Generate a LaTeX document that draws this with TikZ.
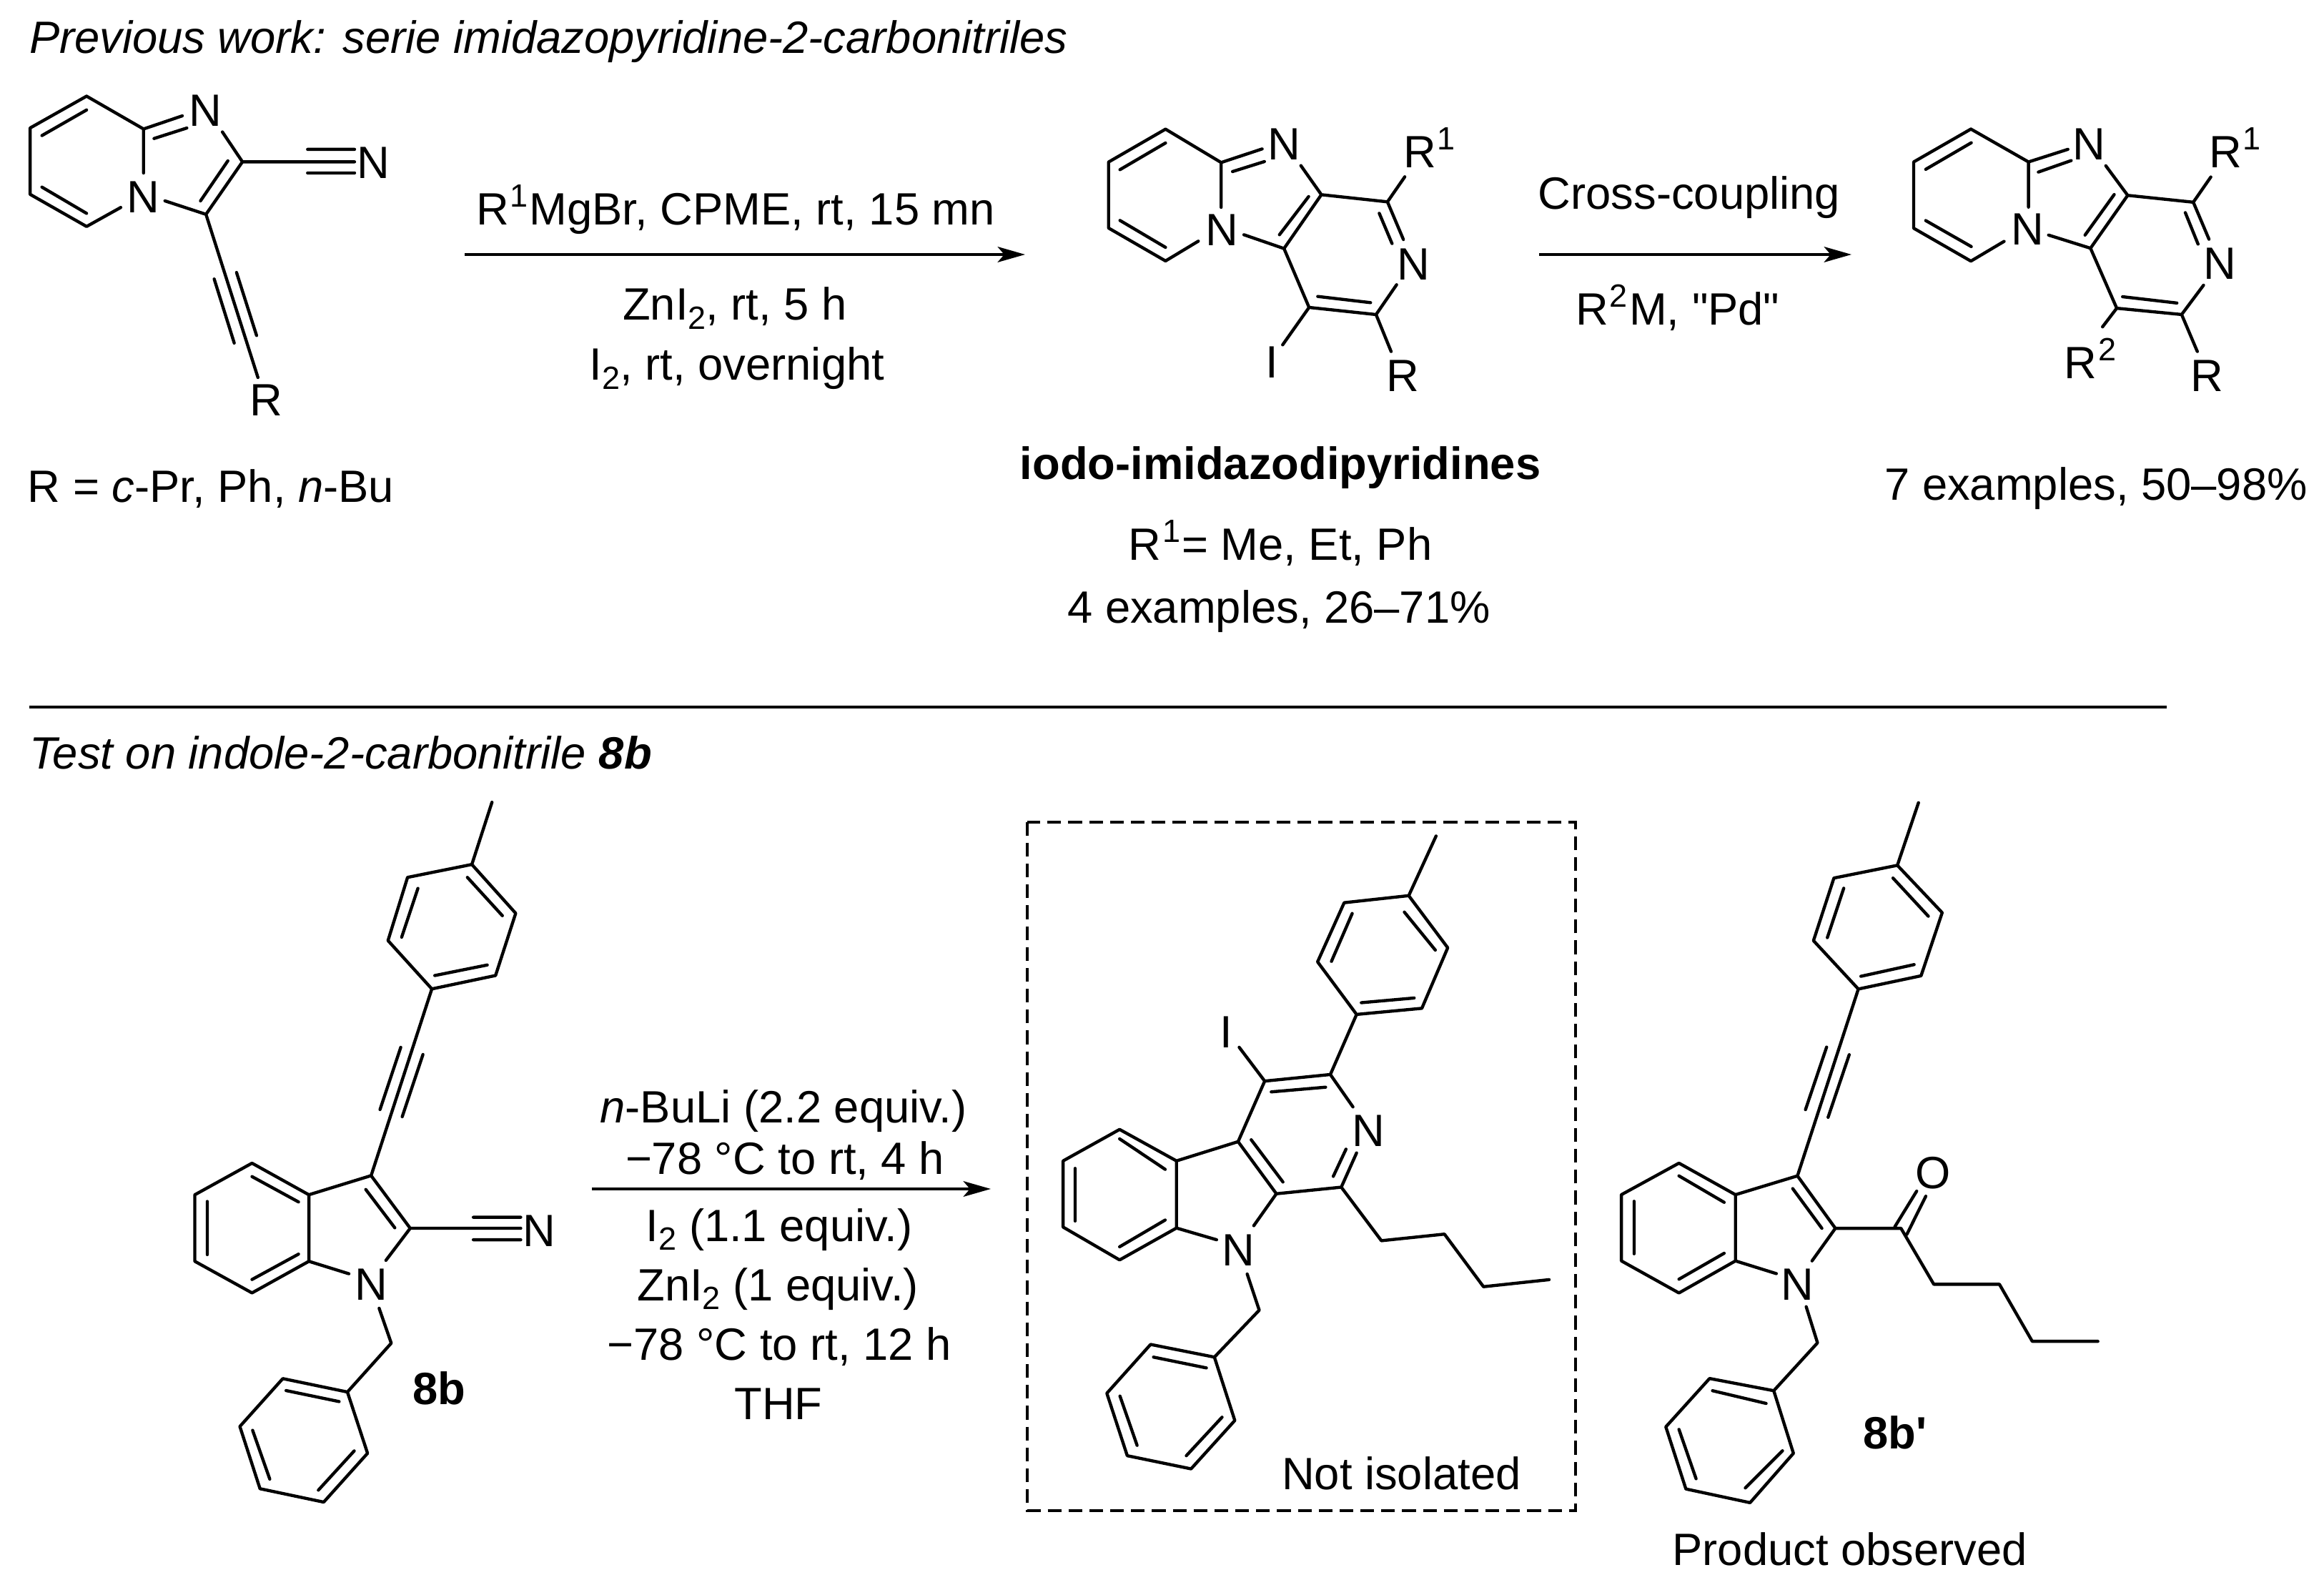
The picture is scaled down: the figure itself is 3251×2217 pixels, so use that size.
\documentclass[tikz,border=0pt]{standalone}
\usepackage{fontspec}
\setmainfont{Liberation Sans}[Ligatures=TeXOff]
\usetikzlibrary{arrows.meta}
\newcommand{\supd}[1]{\kern0.4pt\raisebox{6pt}{\fontsize{10.8}{11}\selectfont #1}\kern0.5pt}
\newcommand{\subd}[1]{\raisebox{-3pt}{\fontsize{10.8}{11}\selectfont #1}}
\tikzset{
  bond/.style={line width=1.05pt,line cap=round,line join=round,black},
  txt/.style={inner sep=0pt,outer sep=0pt,font=\fontsize{15.2}{18}\selectfont},
  atom/.style={txt,anchor=center},
  lft/.style={txt,anchor=base west},
  ctr/.style={txt,anchor=base},
  boldface/.style={font=\fontsize{15.2}{18}\selectfont\bfseries},
  rxn/.style={line width=1.05pt,-{Stealth[length=9.2pt,width=5.2pt,inset=2.2pt]}},
  rule/.style={line width=0.95pt},
  dashbox/.style={line width=0.95pt,dash pattern=on 4.6pt off 2.4pt},
  crop/.style n args={4}{shift={(#1,#2)},x=0.24pt/#3,y=-0.24pt/#4}
}
\begin{document}
\begin{tikzpicture}[x=0.24pt,y=-0.24pt]
\useasboundingbox (0,0) rectangle (3251,2217);

% headers and rule
\node[lft] (head1) at (41,75) {\itshape Previous work: serie imidazopyridine-2-carbonitriles};
\node[lft] (head2) at (41,1076) {\itshape Test on indole-2-carbonitrile \textbf{8b}};
\coordinate (ruleL) at (41,989);
\coordinate (ruleR) at (3031,989);
\draw[rule] (ruleL) -- (ruleR);

% ---------- starting nitrile
\begin{scope}[crop={0}{0}{1.568}{2.178}]
\draw[bond] (190,293)--(66,390)--(66,592)--(190,690)--(265,632)
  (190,293)--(315,393)--(315,527)
  (315,393)--(400,353) (338,422)--(410,390)
  (92,413)--(190,335) (92,570)--(190,650)
  (488,402)--(532,493)--(452,653)--(362,612)
  (500,490)--(440,612)
  (532,493)--(778,493) (675,455)--(778,455) (675,527)--(778,527)
  (452,653)--(566,1150) (470,850)--(514,1045) (519,830)--(563,1022);
\node[atom] (sN1) at (450,337) {N};
\node[atom] (sN2) at (315,600) {N};
\node[atom] (sN3) at (820,497) {N};
\node[atom] (sR) at (584,1218) {R};
\end{scope}
\node[lft] (rdef) at (39,703) {R = \textit{c}-Pr, Ph, \textit{n}-Bu};

% ---------- arrow 1
\coordinate (a1s) at (650,356);
\coordinate (a1e) at (1434,356);
\draw[rxn] (a1s) -- (a1e);
\node[ctr] (a1t1) at (1029,315) {R\supd{1}MgBr, CPME, rt, 15 mn};
\node[ctr] (a1t2) at (1028,448) {ZnI\subd{2}, rt, 5 h};
\node[ctr] (a1t3) at (1031,532) {I\subd{2}, rt, overnight};

% ---------- iodo product
\begin{scope}[crop={1450}{120}{1.568}{3.0}]
\draw[bond] (283,182)--(158,320)--(158,597)--(283,735)--(355,652)
  (283,182)--(405,322)--(405,510)
  (405,322)--(495,265) (430,360)--(500,318)
  (183,352)--(283,240) (183,565)--(283,678)
  (580,335)--(625,457)--(543,683)--(455,625)
  (597,465)--(533,625)
  (543,683)--(598,930)--(745,960)--(790,835)
  (617,884)--(733,910)
  (625,457)--(770,487)--(808,382)
  (770,487)--(805,645) (752,535)--(780,662)
  (598,930)--(540,1087)
  (745,960)--(778,1115);
\node[atom] (iN1) at (543,245) {N};
\node[atom] (iN2) at (407,605) {N};
\node[atom] (iN3) at (827,748) {N};
\node[atom] (iI) at (516,1160) {I};
\node[atom] (iR) at (803,1218) {R};
\node[lft] (iR1) at (805,345) {R\supd{1}};
\end{scope}
\node[ctr,boldface] (iodo) at (1791,671) {iodo-imidazodipyridines};
\node[ctr] (iodo2) at (1791,784) {R\supd{1}= Me, Et, Ph};
\node[ctr] (iodo3) at (1789,872) {4 examples, 26–71\%};

% ---------- arrow 2
\coordinate (a2s) at (2153,356);
\coordinate (a2e) at (2590,356);
\draw[rxn] (a2s) -- (a2e);
\node[ctr] (a2t1) at (2363,293) {Cross-coupling};
\node[ctr] (a2t2) at (2347,455) {R\supd{2}M, "Pd"};

% ---------- coupled product
\begin{scope}[crop={2450}{120}{1.96}{2.61}]
\draw[bond] (602,158)--(445,278)--(445,520)--(602,640)--(693,568)
  (602,158)--(760,278)--(760,443)
  (760,278)--(868,232) (787,315)--(877,273)
  (478,305)--(603,208) (478,492)--(603,587)
  (972,292)--(1032,400)--(930,593)--(815,545)
  (995,397)--(915,545)
  (930,593)--(1002,812)--(1180,835)--(1240,728)
  (1018,770)--(1167,793)
  (1032,400)--(1212,425)--(1260,333)
  (1212,425)--(1255,560) (1190,463)--(1225,578)
  (1002,812)--(963,880)
  (1180,835)--(1223,970);
\node[atom] (pN1) at (927,213) {N};
\node[atom] (pN2) at (757,525) {N};
\node[atom] (pN3) at (1285,650) {N};
\node[atom] (pR) at (1250,1058) {R};
\node[lft] (pR1) at (1255,298) {R\supd{1}};
\node[lft] (pR2) at (858,1068) {R\supd{2}};
\end{scope}
\node[ctr] (pyield) at (2932,700) {7 examples, 50–98\%};

% ---------- 8b
\begin{scope}[crop={200}{1100}{2.412}{1.493}]
\draw[bond] (1178,33)--(1110,163)
  (1110,163)--(1258,265)--(1190,395)--(975,423)--(827,322)--(893,190)--cycle
  (1095,190)--(1213,270) (1162,373)--(985,395) (873,315)--(928,213)
  (975,423)--(770,813) (800,675)--(870,545) (875,690)--(945,560)
  (770,813)--(902,923)--(820,990) (752,842)--(850,922)
  (770,813)--(560,853)--(368,787)--(175,853)--(175,992)--(368,1058)--(560,992)--(560,853)
  (560,992)--(695,1018)
  (368,815)--(525,868) (217,867)--(217,978) (368,1030)--(525,977)
  (902,923)--(1275,923) (1115,900)--(1275,900) (1115,947)--(1275,947)
  (797,1090)--(838,1163)--(690,1265)
  (690,1265)--(472,1237)--(327,1337)--(395,1467)--(610,1495)--(758,1393)--cycle
  (662,1285)--(483,1262) (370,1345)--(428,1447) (592,1470)--(713,1388);
\node[atom] (bN1) at (770,1040) {N};
\node[atom] (bN2) at (1338,928) {N};
\node[atom,boldface] (lab8b) at (1000,1258) {8b};
\end{scope}

% ---------- arrow 3
\coordinate (a3s) at (828,1663);
\coordinate (a3e) at (1386,1663);
\draw[rxn] (a3s) -- (a3e);
\node[ctr] (a3t1) at (1096,1570) {\textit{n}-BuLi (2.2 equiv.)};
\node[ctr] (a3t2) at (1098,1642) {−78 °C to rt, 4 h};
\node[ctr] (a3t3) at (1090,1736) {I\subd{2} (1.1 equiv.)};
\node[ctr] (a3t4) at (1088,1819) {ZnI\subd{2} (1 equiv.)};
\node[ctr] (a3t5) at (1090,1902) {−78 °C to rt, 12 h};
\node[ctr] (a3t6) at (1089,1985) {THF};

% ---------- not isolated
\begin{scope}[crop={1430}{1130}{1.96}{1.522}]
\draw[dashbox] (14,30) rectangle (1517,1497);
\draw[bond] (1135,60)--(1060,187)
  (1060,187)--(1167,298)--(1096,427)--(917,440)--(810,328)--(883,202)--cycle
  (1048,222)--(1133,303) (1075,405)--(930,415) (848,327)--(905,225)
  (917,440)--(845,568)--(665,582)--(592,711)--(697,822)--(875,808)--(917,735)
  (683,605)--(832,595) (628,707)--(715,797) (853,785)--(888,727)
  (845,568)--(907,637) (665,582)--(595,510)
  (592,711)--(423,752)--(267,685)--(112,752)--(112,893)--(267,963)--(423,895)--(423,752)
  (267,705)--(392,770) (145,768)--(145,880) (267,935)--(392,878)
  (423,895)--(533,920) (697,822)--(635,890)
  (617,993)--(650,1070)--(527,1170)
  (527,1170)--(352,1143)--(232,1247)--(288,1380)--(463,1408)--(583,1305)--cycle
  (505,1193)--(360,1170) (268,1253)--(315,1358) (450,1380)--(548,1298)
  (875,808)--(985,922)--(1158,908)--(1265,1020)--(1445,1005);
\node[atom] (nN1) at (950,688) {N};
\node[atom] (nN2) at (592,942) {N};
\node[atom] (nI) at (560,477) {I};
\node[lft] (nlab) at (712,1452) {Not isolated};
\end{scope}

% ---------- 8b'
\begin{scope}[crop={2240}{1100}{1.96}{1.404}]
\draw[bond] (870,32)--(812,155)
  (812,155)--(935,248)--(877,372)--(705,398)--(582,303)--(638,180)--cycle
  (800,180)--(897,255) (858,350)--(712,373) (620,297)--(665,200)
  (705,398)--(538,765) (560,635)--(618,512) (622,650)--(680,527)
  (538,765)--(642,868)--(578,932) (525,790)--(605,868)
  (538,765)--(368,802)--(213,740)--(55,802)--(55,932)--(213,995)--(368,932)--(368,802)
  (213,765)--(337,817) (90,815)--(90,918) (213,968)--(337,917)
  (368,932)--(480,957)
  (562,1022)--(593,1093)--(473,1187)
  (473,1187)--(297,1163)--(177,1258)--(232,1380)--(408,1407)--(527,1310)--cycle
  (452,1212)--(305,1187) (213,1263)--(260,1360) (395,1378)--(497,1305)
  (642,868)--(822,868)--(912,978)--(1092,978)--(1182,1090)--(1362,1090)
  (805,865)--(865,795) (838,880)--(890,805);
\node[atom] (cN) at (537,978) {N};
\node[atom] (cO) at (910,760) {O};
\node[atom,boldface] (lab8bp) at (805,1270) {8b'};
\node[lft] (cobs) at (195,1530) {Product observed};
\end{scope}
\end{tikzpicture}
\end{document}
